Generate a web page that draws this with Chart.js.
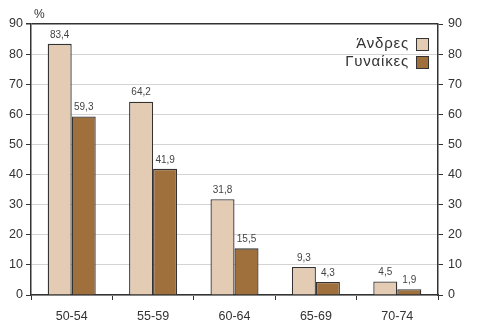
<!DOCTYPE html>
<html>
<head>
<meta charset="utf-8">
<script src="https://cdn.jsdelivr.net/npm/chart.js@4/dist/chart.umd.min.js"></script>
<style>
  html, body { margin: 0; padding: 0; background: #fff; }
  #wrap { width: 482px; height: 322px; }
</style>
</head>
<body>
<div id="wrap"><canvas id="c" width="482" height="322"></canvas></div>
<script>
const categories = ['50-54', '55-59', '60-64', '65-69', '70-74'];
const men = [83.4, 64.2, 31.8, 9.3, 4.5];
const women = [59.3, 41.9, 15.5, 4.3, 1.9];
const seriesNames = ['Άνδρες', 'Γυναίκες'];
const yTicks = [0, 10, 20, 30, 40, 50, 60, 70, 80, 90];

const FONT = '"Liberation Sans", Arial, sans-serif';
const DARK = '#333333';

// Values above each bar, written with a decimal comma
const valueLabels = {
  id: 'valueLabels',
  afterDatasetsDraw(chart) {
    const ctx = chart.ctx;
    ctx.save();
    ctx.font = '10px ' + FONT;
    ctx.fillStyle = '#444';
    ctx.textAlign = 'center';
    ctx.textBaseline = 'bottom';
    chart.data.datasets.forEach((ds, i) => {
      chart.getDatasetMeta(i).data.forEach((bar, j) => {
        ctx.fillText(ds.data[j].toFixed(1).replace('.', ','), bar.x, bar.y - 4);
      });
    });
    ctx.restore();
  }
};

// Legend in the upper right of the plot: text first, swatch after it
const cornerLegend = {
  id: 'cornerLegend',
  afterDraw(chart) {
    const ctx = chart.ctx;
    const area = chart.chartArea;
    ctx.save();
    ctx.font = '15px ' + FONT;
    ctx.letterSpacing = '0.8px';
    ctx.textAlign = 'right';
    ctx.textBaseline = 'middle';
    chart.data.datasets.forEach((ds, i) => {
      const y = area.top + 20 + i * 18;
      const bx = area.right - 22;
      ctx.fillStyle = DARK;
      ctx.fillText(ds.label, bx - 7, y);
      ctx.fillStyle = ds.backgroundColor;
      ctx.fillRect(bx, y - 6, 13, 13);
      ctx.strokeStyle = DARK;
      ctx.lineWidth = 1;
      ctx.strokeRect(bx + 0.5, y - 5.5, 12, 12);
    });
    // unit mark above the left axis
    ctx.letterSpacing = '0px';
    ctx.font = '12px ' + FONT;
    ctx.textAlign = 'left';
    ctx.textBaseline = 'alphabetic';
    ctx.fillStyle = DARK;
    ctx.fillText('%', area.left + 3, area.top - 6);
    ctx.restore();
  }
};

const yCommon = {
  min: 0, max: 90,
  afterBuildTicks(scale) { scale.ticks = yTicks.map(v => ({ value: v })); },
  border: { display: true, color: DARK, width: 1.5 }
};

new Chart(document.getElementById('c'), {
  type: 'bar',
  data: {
    labels: categories,
    datasets: [
      { label: seriesNames[0], data: men, backgroundColor: '#E4CCB4', borderColor: DARK, borderWidth: 1.3, categoryPercentage: 0.59, barPercentage: 1.0 },
      { label: seriesNames[1], data: women, backgroundColor: '#A0703C', borderColor: DARK, borderWidth: 1.3, categoryPercentage: 0.59, barPercentage: 1.0 }
    ]
  },
  options: {
    responsive: false,
    animation: false,
    layout: { padding: { top: 24, left: 0, right: 0, bottom: 0 } },
    plugins: { legend: { display: false }, tooltip: { enabled: false } },
    scales: {
      x: {
        grid: { display: true, drawOnChartArea: false, offset: true, tickLength: 5, tickColor: DARK, lineWidth: 1 },
        border: { display: true, color: DARK, width: 1.5 },
        ticks: { font: { size: 12.5, family: FONT }, color: DARK, padding: 9 },
        afterFit(scale) { scale.height = 27; }
      },
      y: Object.assign({}, yCommon, {
        position: 'left',
        ticks: { font: { size: 12.5, family: FONT }, color: DARK, padding: 3 },
        grid: {
          drawTicks: true, tickLength: 5, tickColor: DARK,
          color: ctx => (ctx.tick && ctx.tick.value === 90) ? DARK : '#d4d4d4',
          lineWidth: ctx => (ctx.tick && ctx.tick.value === 90) ? 1.5 : 1
        },
        afterFit(scale) { scale.width = 31; }
      }),
      y2: Object.assign({}, yCommon, {
        position: 'right',
        ticks: { font: { size: 12.5, family: FONT }, color: DARK, padding: 5 },
        grid: { drawOnChartArea: false, tickLength: 5, tickColor: DARK },
        afterFit(scale) { scale.width = 44; }
      })
    }
  },
  plugins: [valueLabels, cornerLegend]
});
</script>
</body>
</html>
